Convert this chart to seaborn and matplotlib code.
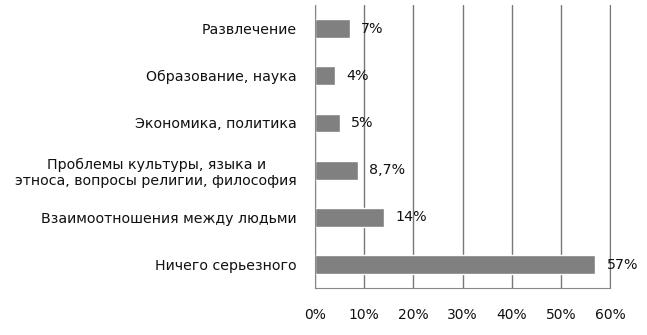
import matplotlib
matplotlib.use('Agg')
import matplotlib.pyplot as plt
import seaborn as sns
import pandas as pd
import numpy as np

# данные с картинки
categories = ['Развлечение', 'Образование, наука', 'Экономика, политика',
              'Проблемы культуры, языка и\nэтноса, вопросы религии, философия',
              'Взаимоотношения между людьми', 'Ничего серьезного']
values = [7, 4, 5, 8.7, 14, 57]
value_labels = ['7%', '4%', '5%', '8,7%', '14%', '57%']
x_ticks = [0, 10, 20, 30, 40, 50, 60]

df = pd.DataFrame({'category': categories, 'value': values})

sns.set_style('white')
plt.rcParams['font.family'] = ['DejaVu Sans']

fig = plt.figure(figsize=(6.47, 3.35), dpi=100)
ax = fig.add_axes([0.487, 0.140, 0.456, 0.845])

sns.barplot(data=df, x='value', y='category', color='#808080', saturation=1,
            width=0.40, orient='h', ax=ax)

# подписи значений
ax.bar_label(ax.containers[0], labels=value_labels, padding=8, fontsize=10.3, color='#111111')

ax.set_xlim(0, 60)
ax.set_ylim(5.5, -0.5)
ax.set_xticks(x_ticks)
ax.set_xticklabels([f'{t}%' for t in x_ticks], fontsize=10, color='#111111')
ax.tick_params(axis='x', direction='out', length=4, color='#888888', pad=10)

# деления по границам категорий
ax.set_yticks(np.arange(len(categories)))
ax.set_yticklabels(categories, fontsize=10.2, color='#111111', ha='right')
ax.tick_params(axis='y', which='major', length=0, pad=13)
ax.set_yticks(np.arange(-0.5, len(categories)), minor=True)
ax.tick_params(axis='y', which='minor', length=4, color='#888888', direction='out')
for lbl in ax.get_yticklabels():
    lbl.set_multialignment('center')

ax.grid(True, axis='x', color='#777777', linewidth=1)
ax.set_axisbelow(True)
ax.spines['top'].set_visible(False)
ax.spines['right'].set_color('#777777')
ax.spines['left'].set_color('#888888')
ax.spines['bottom'].set_color('#888888')
ax.set_xlabel('')
ax.set_ylabel('')

fig.savefig('out.png', dpi=100)
